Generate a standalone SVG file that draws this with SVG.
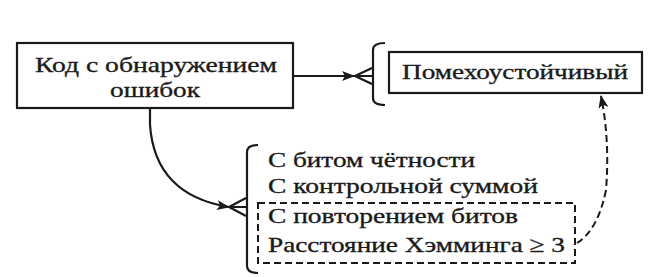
<svg xmlns="http://www.w3.org/2000/svg" width="664" height="277" viewBox="0 0 664 277">
<style>
.box{fill:#fff;stroke:#1a1a1a;stroke-width:2.2}
.t{font-family:"Liberation Serif","DejaVu Serif",serif;font-size:22px;fill:#1a1a1a;stroke:#1a1a1a;stroke-width:0.35}
.ln{fill:none;stroke:#1a1a1a;stroke-width:2.2}
.dash{fill:none;stroke:#1a1a1a;stroke-width:2;stroke-dasharray:7 4}
</style>
<defs>
<marker id="ah" viewBox="0 0 13 10" refX="12" refY="5" markerWidth="13" markerHeight="10" markerUnits="userSpaceOnUse" orient="auto">
<path d="M0,0 L13,5 L0,10 L3,5 Z" fill="#1a1a1a"/>
</marker>
</defs>
<rect width="664" height="277" fill="#fff"/>
<g id="node-code">
<rect class="box" x="17" y="43" width="276" height="65"/>
<text class="t" x="35" y="72" textLength="242" lengthAdjust="spacingAndGlyphs">Код с обнаружением</text>
<text class="t" x="110" y="97" textLength="90" lengthAdjust="spacingAndGlyphs">ошибок</text>
</g>
<g id="node-robust">
<path class="ln" d="M385,43 Q373,43 373,50 L373,98 Q373,105 385,105"/>
<rect class="box" x="389" y="52" width="253" height="41"/>
<text class="t" x="402" y="79" textLength="226" lengthAdjust="spacingAndGlyphs">Помехоустойчивый</text>
</g>
<g id="node-list">
<path class="ln" d="M258,145 Q247,145 247,152 L247,266 Q247,273 258,273"/>
<text class="t" x="268" y="167" textLength="207" lengthAdjust="spacingAndGlyphs">С битом  чётности</text>
<text class="t" x="268" y="193" textLength="270" lengthAdjust="spacingAndGlyphs">С контрольной  суммой</text>
<rect class="dash" x="258" y="203" width="317" height="60"/>
<text class="t" x="268" y="223" textLength="250" lengthAdjust="spacingAndGlyphs">С повторением  битов</text>
<text class="t" x="268" y="252" textLength="297" lengthAdjust="spacingAndGlyphs">Расстояние Хэмминга ≥ 3</text>
</g>
<g id="connectors">
<path class="ln" d="M293,76 L354,76" marker-end="url(#ah)"/>
<path class="ln" d="M372,68 L355,76 L372,84 M355,76 L372,76"/>
<path class="ln" d="M150,108 L150,125 Q155,195 229,207" marker-end="url(#ah)"/>
<path class="ln" d="M246,198 L229,207 L246,216 M229,207 L246,207"/>
<path class="dash" d="M577,243 Q598,230 606,190 Q610,140 601,96" marker-end="url(#ah)"/>
</g>
</svg>
